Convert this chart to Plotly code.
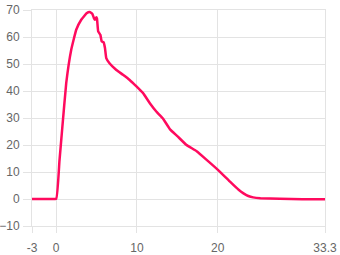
import plotly.graph_objects as go

x_vals = [-3, -1, 0, 0.4, 0.75, 1.24, 1.86, 2.48, 3.1, 3.8, 4.14, 4.47, 4.67, 4.8, 4.97, 5.05, 5.2, 5.47, 5.63, 5.88, 6.04, 6.2, 6.6,
          7.45, 8.27, 9.1, 9.94, 10.76, 11.6, 12.4, 13.2, 14.1, 15.0, 16.1, 17.4, 18.6, 20.0, 21.5, 22.6, 23.2, 23.8, 24.4, 25.3,
          27.7, 30.5, 33.3]
y_vals = [0, 0, 0.1, 14, 26.3, 42.9, 55.3, 62.7, 66.4, 68.9, 69.3, 68.6, 67.0, 66.4, 67.3, 66.8, 62.1, 60.8, 58.4, 58.0, 55.9, 52.2, 50.3,
          47.8, 46.0, 44.1, 41.7, 39.2, 35.5, 32.4, 29.9, 25.8, 23.3, 20.1, 17.7, 14.6, 10.9, 6.5, 3.4, 2.1, 1.1, 0.6, 0.3,
          0.1, -0.05, -0.1]

x_ticks = [-3, 0, 10, 20, 33.3]
x_tick_text = ["-3", "0", "10", "20", "33.3"]
y_ticks = [-10, 0, 10, 20, 30, 40, 50, 60, 70]

grid = "#e3e3e3"

fig = go.Figure()
fig.add_trace(go.Scatter(x=x_vals, y=y_vals, mode="lines",
                         line=dict(color="#ff0a5e", width=2.5, shape="spline", smoothing=0.3),
                         hoverinfo="skip"))

fig.update_layout(
    width=340, height=255,
    margin=dict(l=32, r=15, t=10, b=29),
    paper_bgcolor="white", plot_bgcolor="white",
    showlegend=False,
    font=dict(family="Liberation Sans, Arial, sans-serif", size=12, color="#666666"),
)
fig.update_xaxes(range=[-3, 33.3], tickvals=x_ticks, ticktext=x_tick_text,
                 showgrid=True, gridcolor=grid, gridwidth=1, zeroline=False,
                 showline=True, linecolor=grid, linewidth=1, mirror=True,
                 ticks="outside", ticklen=6, tickcolor=grid, tickwidth=1,
                 ticklabelstandoff=5, automargin=False)
fig.update_yaxes(range=[-10, 70], tickvals=y_ticks,
                 showgrid=True, gridcolor=grid, gridwidth=1, zeroline=False,
                 showline=True, linecolor=grid, linewidth=1, mirror=True,
                 ticks="outside", ticklen=8, tickcolor=grid, tickwidth=1,
                 ticklabelstandoff=1, automargin=False)

fig.write_html("out.html")
